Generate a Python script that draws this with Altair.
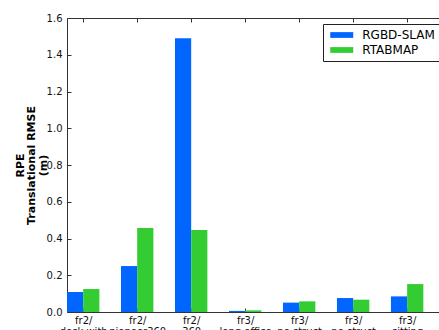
import json
import altair as alt
import pandas as pd

# ---- data ----
sequence_lines = [
    ["fr2/", "desk with", "person"],
    ["fr2/", "pioneer360", ""],
    ["fr2/", "360", "kidnap"],
    ["fr3/", "long office", "household"],
    ["fr3/", "no struct", "texture far"],
    ["fr3/", "no struct", "texture near"],
    ["fr3/", "sitting", "xyz"],
]
rgbd_slam = [0.109, 0.250, 1.490, 0.006, 0.051, 0.076, 0.085]
rtabmap = [0.125, 0.457, 0.446, 0.009, 0.058, 0.067, 0.152]
series_names = ["RGBD-SLAM", "RTABMAP"]
series_colors = ["#0066ff", "#33cc33"]
y_ticks = [0.0, 0.2, 0.4, 0.6, 0.8, 1.0, 1.2, 1.4, 1.6]

BAR_W = 0.3
rows = []
for i, (a, b) in enumerate(zip(rgbd_slam, rtabmap)):
    rows.append(dict(idx=i, x0=i - BAR_W, x1=i, value=a, method=series_names[0]))
    rows.append(dict(idx=i, x0=i, x1=i + BAR_W, value=b, method=series_names[1]))
df = pd.DataFrame(rows)

W, H = 372, 294
FONT = "DejaVu Sans"
AX = "#333333"
xscale = alt.Scale(domain=[-0.3, 6.59], nice=False, zero=False)
yscale = alt.Scale(domain=[0, 1.6], nice=False)
xvals = list(range(len(sequence_lines)))
label_expr = json.dumps(sequence_lines) + "[datum.value]"

bars = alt.Chart(df).mark_bar().encode(
    x=alt.X("x0:Q", scale=xscale,
            axis=alt.Axis(values=xvals, labelExpr=label_expr, ticks=False, grid=False,
                          title=None, domainColor=AX, labelColor="#111111", labelFont=FONT,
                          labelFontSize=10, labelPadding=3, labelLineHeight=11.5,
                          labelOverlap=False, labelBaseline="top")),
    x2="x1:Q",
    y=alt.Y("value:Q", scale=yscale,
            axis=alt.Axis(values=y_ticks, format=".1f", ticks=False, grid=False,
                          domainColor=AX, labelColor="#111111", labelFont=FONT,
                          labelFontSize=10, labelPadding=5,
                          title=["RPE", "Translational RMSE", "(m)"],
                          titleFont=FONT, titleFontSize=11, titleFontWeight="bold",
                          titleLineHeight=11.5, titlePadding=-2, titleColor="black")),
    y2=alt.datum(0),
    color=alt.Color("method:N",
                    scale=alt.Scale(domain=series_names, range=series_colors),
                    legend=alt.Legend(orient="none", legendX=256, legendY=6, title=None,
                                      strokeColor="#222222", fillColor="white", padding=5,
                                      cornerRadius=0,
                                      symbolType="M-2,-0.5L2,-0.5L2,0.5L-2,0.5Z",
                                      symbolSize=132, symbolStrokeWidth=0,
                                      symbolOffset=7.75,
                                      labelFont=FONT, labelFontSize=12, labelColor="black",
                                      labelOffset=14.5, rowPadding=3)),
)

frame = alt.Chart(df).mark_point(opacity=0).encode(
    x=alt.X("x0:Q", scale=xscale,
            axis=alt.Axis(orient="bottom", offset=-H, values=xvals, labels=False,
                          tickSize=4, tickColor=AX, domainColor=AX, grid=False, title=None)),
    y=alt.Y("value:Q", scale=yscale,
            axis=alt.Axis(orient="right", offset=-W, values=y_ticks, labels=False,
                          tickSize=4, tickColor=AX, domain=False, grid=False, title=None)),
)

frame2 = alt.Chart(df).mark_point(opacity=0).encode(
    x=alt.X("x0:Q", scale=xscale,
            axis=alt.Axis(orient="top", offset=-H, values=xvals, labels=False,
                          tickSize=4, tickColor=AX, domain=False, grid=False, title=None)),
)

chart = alt.layer(bars, frame, frame2).resolve_axis(x="independent", y="independent").properties(
    width=W, height=H,
    autosize=alt.AutoSizeParams(type="none"),
    padding={"left": 67, "top": 18, "right": 0, "bottom": 18},
).configure_view(stroke=None)

chart.save("out.html", embed_options={"renderer": "svg", "actions": False})
